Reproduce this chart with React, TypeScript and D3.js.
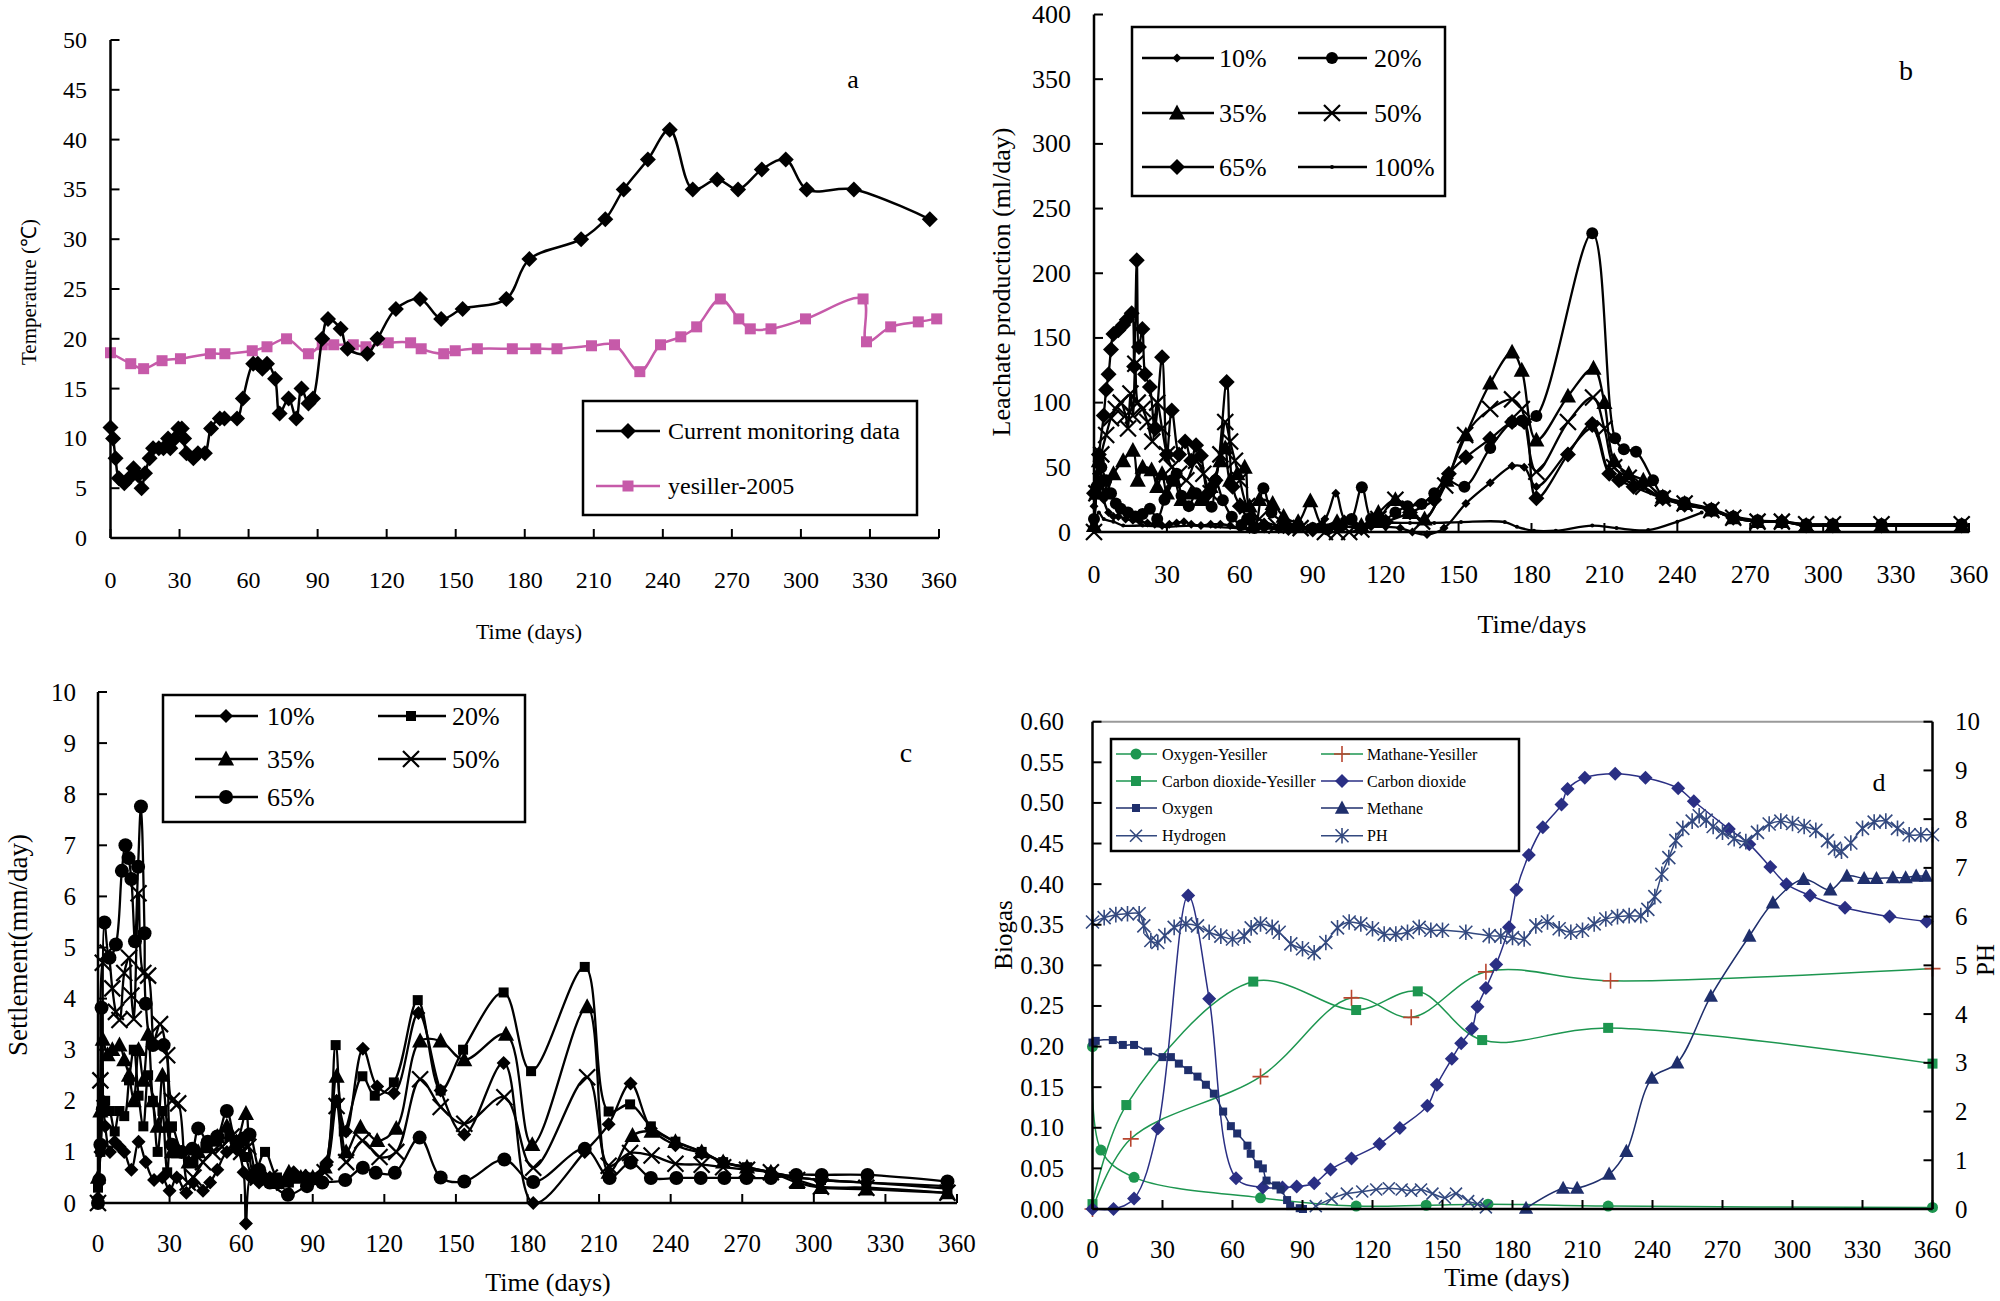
import React from 'react';
import * as d3 from 'd3';

type P = [number, number];

const FONT = '"Liberation Serif", "Times New Roman", serif';

// ---------------- Panel a: temperature ----------------
const aXTicks = [0, 30, 60, 90, 120, 150, 180, 210, 240, 270, 300, 330, 360];
const aYTicks = [0, 5, 10, 15, 20, 25, 30, 35, 40, 45, 50];
const aCurrent: P[] = [
  [0, 11.1], [1.1, 10], [2.2, 8], [3.6, 6], [6, 5.5], [8, 6], [10, 7], [12, 6.3], [13.5, 5], [15, 6.5],
  [17, 8], [18.5, 9], [21, 9], [23, 9], [25, 10], [26, 9], [28, 10], [29.5, 11], [31, 11], [32, 10],
  [33, 8.5], [36, 8], [38, 8.5], [41, 8.5], [43.7, 11], [47.5, 12], [49.5, 12], [55, 12], [57.5, 14],
  [62, 17.5], [64, 17.5], [66, 17], [68, 17.5], [71.5, 16], [73.5, 12.5], [77.4, 14], [80.7, 12], [83, 15],
  [86, 13.5], [88, 14], [92, 20], [94.5, 22], [100, 21], [103, 19], [111.6, 18.5], [116, 20], [124, 23],
  [134.5, 24], [143.7, 22], [153, 23], [172, 24], [182, 28], [204.5, 30], [215, 32], [223, 35], [233.5, 38],
  [243, 41], [253, 35], [263.6, 36], [272.7, 35], [283, 37], [293.4, 38], [302.5, 35], [323, 35], [356, 32],
];
const aYesiller: P[] = [
  [0, 18.6], [8.8, 17.5], [14.4, 17], [22.4, 17.8], [30.4, 18], [43.4, 18.5], [49.7, 18.5], [61.6, 18.8],
  [68, 19.2], [76.5, 20], [86, 18.5], [92, 19.4], [97, 19.4], [105.5, 19.4], [111, 19.2], [120.7, 19.6],
  [130.4, 19.6], [135, 19], [144.8, 18.5], [149.8, 18.8], [159.4, 19], [174.6, 19], [184.8, 19], [194, 19],
  [209, 19.3], [219, 19.4], [230, 16.7], [239, 19.4], [247.8, 20.2], [254.7, 21.2], [265, 24], [273, 22],
  [278, 21], [287, 21], [302, 22], [327, 24], [328.5, 19.7], [339, 21.2], [351, 21.7], [359, 22],
];

// ---------------- Panel b: leachate ----------------
const bYTicks = [0, 50, 100, 150, 200, 250, 300, 350, 400];
const b10: P[] = [
  [0, 20], [1, 45], [2, 30], [3, 38], [4, 25], [6, 15], [8, 12], [10, 12], [13, 10], [16, 9], [19, 8], [22, 7],
  [25, 6], [28, 5], [31, 6], [34, 7], [37, 8], [40, 6], [44, 5], [48, 6], [52, 6], [56, 5], [60, 3], [64, 2],
  [70, 3], [76, 2], [82, 2], [88, 3], [95, 10], [99.5, 30], [103, 10], [108, 5], [114, 4], [120, 4], [126, 3],
  [131, 0], [137, -2], [144, 3], [153, 22], [163, 38], [172, 51], [177, 50], [182, 35], [195, 62], [205, 80],
  [212, 45], [218, 40], [226, 35], [234, 26], [243, 21], [254, 17], [263, 11], [273, 8], [283, 8], [293, 5],
  [304, 5], [324, 5], [357, 5],
];
const b20: P[] = [
  [0, 10], [1, 35], [2, 55], [3, 50], [5, 40], [7, 30], [9, 22], [11, 18], [14, 15], [17, 12], [20, 14], [23, 18],
  [26, 10], [29, 25], [32, 40], [34, 45], [36, 28], [39, 20], [42, 30], [45, 25], [48.4, 19.6], [50, 40], [53, 24.6],
  [56.7, 11.8], [60.7, 5.4], [63, 10], [66, 3], [69.7, 33.8], [73, 15], [78, 8], [84, 5], [90, 3], [96, 2],
  [102, 5], [106, 10], [110.2, 34.6], [114, 10], [118, 8], [124, 15], [129, 20], [134.8, 21.6], [140, 30],
  [145, 40], [152.4, 35], [163, 65], [172, 85], [176, 86], [182, 89.6], [205, 231],
  [214.4, 72.4], [218, 64], [223, 62], [230, 40], [234, 28], [243, 23], [254, 18], [263, 12], [273, 9], [283, 8],
  [293, 6], [304, 6], [324, 6], [357, 6],
];
const b35: P[] = [
  [0, 5], [1, 30], [2, 55], [3, 40], [5, 30], [8, 45], [12, 55], [16, 63], [18, 40], [20, 50], [23.7, 48], [26, 35],
  [28, 45], [30, 30], [33, 40], [36, 25], [40, 30], [44, 25], [48, 35], [52, 55], [54, 65], [56, 40], [59, 45],
  [62, 50], [64, 20], [68, 25], [73.5, 22], [78, 12], [84, 8], [89, 24], [94, 5], [100, 8], [110, 5], [117, 15],
  [124, 25], [130, 15], [136, 10], [145, 40], [153, 75], [163, 115], [172, 139], [176, 125], [182, 71], [195, 105],
  [205.5, 126.5], [210, 100], [214, 55], [220, 45], [226, 40], [234, 27], [243, 22], [254, 17], [263, 11], [273, 8],
  [283, 8], [293, 5], [304, 5], [324, 5], [357, 5],
];
const b50: P[] = [
  [0, 0], [1, 30], [3, 60], [5, 75], [7, 88], [9, 95], [11, 100], [13, 90], [14, 80], [15, 107], [16, 90], [17, 130],
  [18, 100], [20, 95], [22, 85], [24, 70], [26, 100], [28, 80], [30, 60], [32, 50], [35, 45], [38, 40], [42, 55],
  [45, 45], [48, 30], [52, 60], [54, 85], [56, 70], [58, 55], [60, 40], [63, 20], [68, 10], [75, 5], [85, 3], [95, 0],
  [100, 0], [105, 0], [110, 2], [117, 10], [124, 25], [130, 18], [135, 8], [144.5, 36], [152.7, 75], [163, 95],
  [172, 102.5], [176, 95], [182, 46.6], [195, 85], [205.3, 104], [210, 80], [214, 50], [220, 42], [226, 35], [234, 26],
  [243, 22], [254, 17], [263, 11], [273, 8], [283, 8], [293, 6], [304, 6], [324, 6], [357, 6],
];
const b65: P[] = [
  [0, 30], [2, 60], [4, 90], [5, 110], [6, 122], [7, 141], [8, 153], [10, 156], [12, 160], [13.5, 164], [15.5, 169],
  [16.5, 128], [17.6, 210], [18.5, 143], [19.9, 157], [21, 122], [23, 112], [25, 80], [28, 135], [30, 60], [32, 94],
  [35, 60], [37.5, 70], [40, 55], [42, 67], [44, 59], [47, 30], [50, 40], [54.6, 116], [57, 35], [60, 20], [64, 10],
  [70, 5], [80, 3], [90, 2], [100, 5], [110, 3], [120, 8], [130, 15], [140, 25], [146, 45], [153, 57.7], [163, 72],
  [172, 85], [177, 85], [182, 26], [195, 60], [205, 83.5], [212, 45], [216, 40], [222, 35], [234, 26], [243, 21],
  [254, 17], [263, 11], [273, 8], [283, 8], [293, 5], [304, 5], [324, 5], [357, 5],
];
const b100: P[] = [
  [0, 0], [2, 15], [4, 10], [8, 8], [12, 5], [20, 5], [30, 4], [40, 5], [50, 4], [60, 3], [70, 3], [80, 3], [90, 2],
  [100, 3], [110, 5], [120, 7], [130, 7], [140, 7], [151, 7.7], [169, 7.7], [174, 4], [181, 1], [190, 1], [205, 5],
  [215, 3], [228, 1.5], [240, 8], [250, 15],
];
const bLabels = ['10%', '20%', '35%', '50%', '65%', '100%'];

// ---------------- Panel c: settlement ----------------
const cYTicks = [0, 1, 2, 3, 4, 5, 6, 7, 8, 9, 10];
const c10: P[] = [
  [0, 0.1], [1, 1.0], [2, 2.0], [3, 1.5], [5, 1.0], [7, 1.2], [9, 1.1], [11, 1.0], [14, 0.65], [17, 1.2], [20, 0.8],
  [23.5, 0.45], [27, 0.5], [30, 0.24], [33, 0.5], [37, 0.2], [40, 0.4], [44, 0.24], [47, 0.4], [50, 0.65], [54, 1.0],
  [58, 1.05], [61, 0.6], [62, -0.4], [64, 0.5], [67.5, 0.4], [72, 0.5], [77, 0.4], [82, 0.6], [87, 0.5], [92, 0.5],
  [96, 0.8], [100, 2.0], [104, 1.4], [111, 3.02], [117, 2.28], [124, 2.15], [134.3, 3.72], [143.6, 2.2], [153.5, 1.34],
  [170, 2.74], [182.4, 0.0], [204, 1.0], [214, 1.54], [223.2, 2.34], [231.7, 1.46], [242, 1.13], [253, 0.97],
  [262, 0.8], [272, 0.68], [282, 0.6], [293, 0.5], [303, 0.45], [322, 0.4], [356, 0.33],
];
const c20: P[] = [
  [0, 0.3], [1, 1], [3, 2], [5, 1.8], [7, 1.4], [9, 1.8], [11, 1.7], [13, 2.4], [15, 3.0], [17, 2.1], [19, 1.5],
  [21, 2.5], [23, 2.0], [25, 1.0], [27, 1.8], [29, 0.6], [31, 1.5], [35, 1.0], [40, 0.8], [45, 1.1], [50, 1.2],
  [55, 1.3], [60, 1.2], [62, 0.9], [65, 0.5], [70, 1.0], [75, 0.5], [80, 0.4], [85, 0.5], [90, 0.5], [95, 0.7],
  [99.6, 3.09], [103, 1.4], [110.8, 2.48], [116, 2.1], [124, 2.36], [134, 3.97], [143.6, 2.2], [153, 3.0], [170, 4.12],
  [181.5, 2.58], [204, 4.62], [214, 1.79], [223, 1.93], [231.7, 1.5], [242, 1.2], [253, 1.0], [262, 0.8], [272, 0.7],
  [282, 0.6], [293, 0.5], [303, 0.45], [322, 0.4], [356, 0.28],
];
const c35: P[] = [
  [0, 0.5], [1, 1.8], [2, 3.2], [4, 2.9], [6, 3.0], [9, 3.09], [11, 2.8], [13, 2.5], [15, 2.0], [17, 3.0], [19, 2.4],
  [21, 3.3], [23, 2.0], [25, 1.5], [27, 2.5], [29, 1.5], [31, 1.0], [34, 1.0], [38, 0.8], [42, 1.0], [46, 1.1],
  [50, 1.3], [54, 1.5], [58, 1.2], [62, 1.75], [65, 0.6], [70, 0.5], [75, 0.4], [80, 0.6], [85, 0.5], [90, 0.5],
  [95, 0.7], [100, 2.48], [104, 1.0], [110, 1.48], [117, 1.22], [125, 1.46], [135, 3.17], [143.6, 3.17], [153.5, 2.8],
  [171, 3.3], [182, 1.14], [205, 3.84], [214, 0.6], [224, 1.32], [232, 1.4], [242, 1.2], [253, 1.0], [262, 0.8],
  [272, 0.7], [282, 0.6], [293, 0.4], [303, 0.3], [322, 0.27], [356, 0.2],
];
const c50: P[] = [
  [0, 0.0], [1, 2.4], [2, 4.7], [4, 4.9], [6, 4.2], [7.5, 3.74], [9, 3.58], [11, 4.5], [13, 4.8], [14, 4.06],
  [15, 3.6], [17, 6.06], [19, 4.5], [21, 4.45], [23.5, 3.2], [26, 3.5], [29, 2.89], [31, 2.0], [33.6, 1.95],
  [37.6, 0.4], [40, 0.5], [44, 0.8], [48, 1.0], [52, 1.1], [56, 1.3], [60, 1.0], [63, 1.1], [67, 0.5], [72, 0.5],
  [78, 0.4], [84, 0.5], [90, 0.5], [95, 0.6], [100, 1.9], [104, 0.8], [110.8, 1.22], [118, 0.9], [125, 1.0],
  [135, 2.42], [143.6, 1.88], [153.5, 1.55], [170.3, 2.07], [182.4, 0.69], [205, 2.46], [214, 0.73], [223, 0.98],
  [232, 0.93], [242, 0.77], [253, 0.75], [262, 0.7], [272, 0.65], [282, 0.6], [293, 0.45], [303, 0.32], [322, 0.3],
  [356, 0.2],
];
const c65: P[] = [
  [0, 0], [0.5, 0.45], [1, 1.14], [1.5, 3.82], [2, 1.83], [2.7, 5.49], [4.8, 4.8], [7.5, 5.06], [10, 6.5],
  [11.5, 7.0], [12.8, 6.75], [14, 6.34], [15.5, 5.12], [16.8, 6.58], [18, 7.76], [19.5, 5.28], [20, 3.9], [23, 3.09],
  [27.5, 3.09], [31, 1.14], [35, 1.0], [39.5, 1.06], [42, 1.46], [46, 1.2], [50, 1.3], [54, 1.8], [58, 1.2],
  [61, 1.26], [63.5, 1.34], [67.5, 0.65], [72, 0.4], [79.6, 0.16], [87.6, 0.33], [94, 0.4], [103.6, 0.45],
  [111, 0.69], [116.4, 0.59], [124.4, 0.59], [134.8, 1.28], [143.6, 0.5], [153.5, 0.42], [170.3, 0.85], [182.4, 0.41],
  [204, 1.06], [214.4, 0.49], [223.2, 0.79], [231.7, 0.49], [242.4, 0.49], [252.6, 0.49], [262.5, 0.49],
  [271.8, 0.49], [282, 0.49], [292.6, 0.55], [303.3, 0.55], [322.5, 0.55], [356, 0.42],
];
const cLabels = ['10%', '20%', '35%', '50%', '65%'];

// ---------------- Panel d: biogas / pH ----------------
const dLeftTicks = [0, 0.05, 0.1, 0.15, 0.2, 0.25, 0.3, 0.35, 0.4, 0.45, 0.5, 0.55, 0.6];
const dRightTicks = [0, 1, 2, 3, 4, 5, 6, 7, 8, 9, 10];
const dOxygenYes: P[] = [
  [0, 0.2], [3.6, 0.0726], [17.8, 0.039], [72, 0.0138], [113, 0.0036], [143, 0.0046], [169.5, 0.006], [221, 0.0036], [360, 0.002],
];
const dMethaneYes: P[] = [
  [0, 0], [16.4, 0.0864], [72, 0.163], [111, 0.26], [136.6, 0.236], [168.6, 0.292], [222, 0.281], [360, 0.296],
];
const dCO2Yes: P[] = [
  [0, 0.006], [14.5, 0.128], [68.9, 0.28], [113, 0.245], [139.4, 0.268], [167, 0.208], [221, 0.223], [360, 0.179],
];
const dCO2: P[] = [
  [0, 0], [9, 0], [17.8, 0.0128], [28, 0.099], [41, 0.386], [50, 0.259], [61.5, 0.038], [73, 0.0266], [81.4, 0.0266],
  [87.5, 0.0276], [95, 0.0317], [102, 0.0485], [111, 0.0623], [123, 0.08], [131.7, 0.0996], [143.5, 0.127],
  [147.6, 0.153], [154, 0.185], [158, 0.204], [162.6, 0.222], [165, 0.249], [168.6, 0.272], [173, 0.301],
  [178.5, 0.347], [181.7, 0.393], [187, 0.436], [193, 0.47], [201, 0.498], [203.6, 0.517], [211, 0.531], [224, 0.536],
  [237, 0.531], [251, 0.518], [257.7, 0.502], [272.7, 0.468], [281.5, 0.449], [290.5, 0.421], [297.4, 0.4],
  [307.5, 0.386], [322.5, 0.371], [341.6, 0.36], [357.5, 0.354],
];
const dOxygen: P[] = [
  [0, 0.205], [1.4, 0.207], [8.7, 0.208], [13, 0.202], [17.8, 0.202], [23.8, 0.194], [30, 0.187], [33.6, 0.187],
  [37, 0.179], [41, 0.171], [45, 0.163], [48.6, 0.153], [52, 0.142], [56, 0.12], [59.3, 0.102], [62, 0.093],
  [66.4, 0.078], [67.8, 0.068], [71, 0.055], [73, 0.05], [74.6, 0.035], [78.7, 0.029], [80.6, 0.024], [83.4, 0.011],
  [84.7, 0.0036], [88.8, 0.001], [90.2, 0],
];
const dMethane: P[] = [
  [185.8, 0.001], [201.7, 0.0256], [207.7, 0.0256], [221.4, 0.043], [228.8, 0.071], [239.7, 0.161], [250.6, 0.18],
  [265, 0.262], [281.5, 0.336], [291.6, 0.377], [304.7, 0.406], [316.2, 0.393], [323.3, 0.41], [330.7, 0.407],
  [336, 0.407], [343, 0.408], [348.5, 0.408], [353, 0.41], [357.2, 0.41],
];
const dHydrogen: P[] = [
  [95.7, 0.0036], [102.5, 0.0128], [109, 0.019], [115.6, 0.0215], [121.6, 0.024], [127, 0.0256], [132.5, 0.024],
  [136.6, 0.0225], [140.8, 0.024], [145.7, 0.019], [151, 0.0138], [155.8, 0.019], [161, 0.0097], [165, 0.006],
  [168.6, 0.002],
];
const dPH: P[] = [
  [0, 5.89], [5, 5.98], [10, 6.04], [15, 6.06], [20, 6.06], [22, 5.81], [25, 5.51], [28, 5.47], [31, 5.61], [35, 5.78],
  [40, 5.85], [45, 5.81], [50, 5.68], [55, 5.6], [60, 5.54], [65, 5.6], [68, 5.77], [72, 5.85], [77, 5.78], [80, 5.68],
  [85, 5.44], [90, 5.34], [95, 5.26], [100, 5.47], [105, 5.77], [110, 5.89], [115, 5.85], [120, 5.75], [125, 5.64],
  [130, 5.64], [135, 5.68], [140, 5.78], [145, 5.72], [150, 5.72], [160, 5.68], [170, 5.61], [175, 5.6], [180, 5.57],
  [185, 5.54], [190, 5.81], [195, 5.89], [200, 5.75], [205, 5.68], [210, 5.72], [215, 5.85], [220, 5.95], [225, 6.0],
  [230, 6.02], [235, 6.02], [238, 6.15], [241, 6.41], [244, 6.87], [247, 7.21], [250, 7.56], [253, 7.81], [257, 7.96],
  [260, 8.07], [263, 7.98], [266, 7.85], [270, 7.73], [275, 7.6], [280, 7.54], [285, 7.73], [290, 7.9], [295, 7.96],
  [300, 7.91], [305, 7.85], [310, 7.77], [315, 7.56], [318, 7.4], [321, 7.34], [325, 7.51], [330, 7.81], [335, 7.94],
  [340, 7.96], [345, 7.81], [350, 7.68], [355, 7.68], [360, 7.68],
];

const GREEN = '#1d9650';
const NAVY = '#2a2f84';
const NAVY2 = '#1f2f6c';
const STEEL = '#33497f';
const RED = '#b8452f';
const PINK = '#c65aa9';

const curve = d3.curveCatmullRom.alpha(0.5);

function marker(type: string, x: number, y: number, s: number, color: string, key: any, sw = 2.2) {
  switch (type) {
    case 'diamond':
      return <path key={key} d={`M${x},${y - s}L${x + s},${y}L${x},${y + s}L${x - s},${y}Z`} fill={color} />;
    case 'square':
      return <rect key={key} x={x - s / 2} y={y - s / 2} width={s} height={s} fill={color} />;
    case 'circle':
      return <circle key={key} cx={x} cy={y} r={s} fill={color} />;
    case 'triangle':
      return <path key={key} d={`M${x},${y - s}L${x + s * 0.95},${y + s * 0.75}L${x - s * 0.95},${y + s * 0.75}Z`} fill={color} />;
    case 'x':
      return <path key={key} d={`M${x - s},${y - s}L${x + s},${y + s}M${x - s},${y + s}L${x + s},${y - s}`} stroke={color} strokeWidth={sw} fill="none" />;
    case 'plus':
      return <path key={key} d={`M${x - s},${y}L${x + s},${y}M${x},${y - s}L${x},${y + s}`} stroke={color} strokeWidth={sw} fill="none" />;
    case 'asterisk':
      return <path key={key} d={`M${x - s},${y - s}L${x + s},${y + s}M${x - s},${y + s}L${x + s},${y - s}M${x},${y - s * 1.2}L${x},${y + s * 1.2}`} stroke={color} strokeWidth={sw} fill="none" />;
    case 'dot':
      return <circle key={key} cx={x} cy={y} r={s} fill={color} />;
    default:
      return null;
  }
}

type SeriesProps = {
  data: P[];
  xs: d3.ScaleLinear<number, number>;
  ys: d3.ScaleLinear<number, number>;
  color: string;
  width: number;
  mtype: string;
  msize: number;
  mcolor?: string;
  msw?: number;
};

function Series({ data, xs, ys, color, width, mtype, msize, mcolor, msw }: SeriesProps) {
  const line = d3.line<P>().x((d) => xs(d[0])).y((d) => ys(d[1])).curve(curve);
  return (
    <g>
      <path d={line(data) || ''} fill="none" stroke={color} strokeWidth={width} strokeLinejoin="round" />
      {data.map((d, i) => marker(mtype, xs(d[0]), ys(d[1]), msize, mcolor || color, i, msw))}
    </g>
  );
}

function XAxis({ xs, y, ticks, labelY, fs, tick = 9, sw = 2.5, inside = true }: any) {
  const [a, b] = xs.range();
  return (
    <g>
      <line x1={a} x2={b} y1={y} y2={y} stroke="#000" strokeWidth={sw} />
      {ticks.map((t: number) => (
        <g key={t}>
          <line x1={xs(t)} x2={xs(t)} y1={y} y2={inside ? y - tick : y + tick} stroke="#000" strokeWidth={2} />
          <text x={xs(t)} y={labelY} textAnchor="middle" dominantBaseline="central" fontSize={fs} fontFamily={FONT}>{t}</text>
        </g>
      ))}
    </g>
  );
}

function YAxis({ ys, x, ticks, labelX, fs, fmt, anchor = 'end', dir = 1, tick = 9, sw = 2.5, color = '#000' }: any) {
  const [a, b] = ys.range();
  return (
    <g>
      <line x1={x} x2={x} y1={a} y2={b} stroke={color} strokeWidth={sw} />
      {ticks.map((t: number) => (
        <g key={t}>
          <line x1={x} x2={x + dir * tick} y1={ys(t)} y2={ys(t)} stroke="#000" strokeWidth={2} />
          <text x={labelX} y={ys(t)} textAnchor={anchor} dominantBaseline="central" fontSize={fs} fontFamily={FONT}>{fmt ? fmt(t) : t}</text>
        </g>
      ))}
    </g>
  );
}

function Legend({ box, items, fs, lineW = 2.5, sw = 2.5 }: any) {
  return (
    <g>
      <rect x={box[0]} y={box[1]} width={box[2] - box[0]} height={box[3] - box[1]} fill="#fff" stroke="#000" strokeWidth={sw} />
      {items.map((it: any, i: number) => (
        <g key={i}>
          <line x1={it.x1} x2={it.x2} y1={it.y} y2={it.y} stroke={it.color} strokeWidth={lineW} />
          {marker(it.mtype, it.mx, it.y, it.msize, it.mcolor || it.color, 'm', it.msw)}
          <text x={it.tx} y={it.y} dominantBaseline="central" fontSize={fs} fontFamily={FONT}>{it.label}</text>
        </g>
      ))}
    </g>
  );
}

function PanelA() {
  const xs = d3.scaleLinear().domain([0, 360]).range([110.5, 939]);
  const ys = d3.scaleLinear().domain([0, 50]).range([538, 40]);
  return (
    <g>
      <Series data={aYesiller} xs={xs} ys={ys} color={PINK} width={2.5} mtype="square" msize={11} />
      <Series data={aCurrent} xs={xs} ys={ys} color="#000" width={2.5} mtype="diamond" msize={8} />
      <XAxis xs={xs} y={538} ticks={aXTicks} labelY={580} fs={24} />
      <YAxis ys={ys} x={110.5} ticks={aYTicks} labelX={87} fs={24} />
      <text x={529} y={631} textAnchor="middle" dominantBaseline="central" fontSize={22} fontFamily={FONT}>Time (days)</text>
      <text transform="translate(29,292) rotate(-90)" textAnchor="middle" dominantBaseline="central" fontSize={21} fontFamily={FONT}>Temperature (℃)</text>
      <text x={853} y={79} textAnchor="middle" dominantBaseline="central" fontSize={26} fontFamily={FONT}>a</text>
      <Legend
        box={[583, 401, 917, 515]}
        fs={24}
        items={[
          { x1: 596, x2: 660, mx: 628, tx: 668, y: 431, color: '#000', mtype: 'diamond', msize: 8, label: 'Current monitoring data' },
          { x1: 596, x2: 660, mx: 628, tx: 668, y: 486, color: PINK, mtype: 'square', msize: 11, label: 'yesiller-2005' },
        ]}
      />
    </g>
  );
}

function PanelB() {
  const xs = d3.scaleLinear().domain([0, 360]).range([1094, 1969]);
  const ys = d3.scaleLinear().domain([0, 400]).range([532, 14.5]);
  const specs = [
    { d: b100, m: 'dot', s: 2 },
    { d: b10, m: 'diamond', s: 4.5 },
    { d: b20, m: 'circle', s: 6 },
    { d: b35, m: 'triangle', s: 8.5 },
    { d: b50, m: 'x', s: 8 },
    { d: b65, m: 'diamond', s: 8 },
  ];
  const leg = [
    { label: bLabels[0], m: 'diamond', s: 4.5, col: 0, row: 0 },
    { label: bLabels[1], m: 'circle', s: 6, col: 1, row: 0 },
    { label: bLabels[2], m: 'triangle', s: 8.5, col: 0, row: 1 },
    { label: bLabels[3], m: 'x', s: 8, col: 1, row: 1 },
    { label: bLabels[4], m: 'diamond', s: 8, col: 0, row: 2 },
    { label: bLabels[5], m: 'dot', s: 2, col: 1, row: 2 },
  ];
  const rows = [58, 113, 167];
  const cols = [
    { x1: 1142, x2: 1214, mx: 1177, tx: 1219 },
    { x1: 1298, x2: 1367, mx: 1332, tx: 1374 },
  ];
  return (
    <g>
      {specs.map((sp, i) => (
        <Series key={i} data={sp.d} xs={xs} ys={ys} color="#000" width={2.3} mtype={sp.m} msize={sp.s} />
      ))}
      <XAxis xs={xs} y={532} ticks={aXTicks} labelY={574} fs={26} />
      <YAxis ys={ys} x={1094} ticks={bYTicks} labelX={1071} fs={26} />
      <text x={1532} y={624} textAnchor="middle" dominantBaseline="central" fontSize={26} fontFamily={FONT}>Time/days</text>
      <text transform="translate(1001,282) rotate(-90)" textAnchor="middle" dominantBaseline="central" fontSize={26} fontFamily={FONT}>Leachate production (ml/day)</text>
      <text x={1906} y={70} textAnchor="middle" dominantBaseline="central" fontSize={28} fontFamily={FONT}>b</text>
      <Legend
        box={[1132, 27, 1445, 196]}
        fs={26}
        items={leg.map((l) => ({ ...cols[l.col], y: rows[l.row], color: '#000', mtype: l.m, msize: l.s, label: l.label }))}
      />
    </g>
  );
}

function PanelC() {
  const xs = d3.scaleLinear().domain([0, 360]).range([98, 957]);
  const ys = d3.scaleLinear().domain([0, 10]).range([1203, 692]);
  const specs = [
    { d: c10, m: 'diamond', s: 7 },
    { d: c20, m: 'square', s: 10 },
    { d: c35, m: 'triangle', s: 8.5 },
    { d: c50, m: 'x', s: 8 },
    { d: c65, m: 'circle', s: 7 },
  ];
  const leg = [
    { label: cLabels[0], m: 'diamond', s: 7, col: 0, row: 0 },
    { label: cLabels[1], m: 'square', s: 10, col: 1, row: 0 },
    { label: cLabels[2], m: 'triangle', s: 8.5, col: 0, row: 1 },
    { label: cLabels[3], m: 'x', s: 8, col: 1, row: 1 },
    { label: cLabels[4], m: 'circle', s: 7, col: 0, row: 2 },
  ];
  const rows = [716, 759, 797];
  const cols = [
    { x1: 195, x2: 258, mx: 226, tx: 267 },
    { x1: 378, x2: 446, mx: 411, tx: 452 },
  ];
  return (
    <g>
      {specs.map((sp, i) => (
        <Series key={i} data={sp.d} xs={xs} ys={ys} color="#000" width={2.3} mtype={sp.m} msize={sp.s} />
      ))}
      <XAxis xs={xs} y={1203} ticks={aXTicks} labelY={1243} fs={25} />
      <YAxis ys={ys} x={98} ticks={cYTicks} labelX={76} fs={25} />
      <text x={548} y={1282} textAnchor="middle" dominantBaseline="central" fontSize={26} fontFamily={FONT}>Time (days)</text>
      <text transform="translate(18,945) rotate(-90)" textAnchor="middle" dominantBaseline="central" fontSize={27} fontFamily={FONT}>Settlement(mm/day)</text>
      <text x={906} y={752} textAnchor="middle" dominantBaseline="central" fontSize={28} fontFamily={FONT}>c</text>
      <Legend
        box={[163, 695, 525, 822]}
        fs={26}
        items={leg.map((l) => ({ ...cols[l.col], y: rows[l.row], color: '#000', mtype: l.m, msize: l.s, label: l.label }))}
      />
    </g>
  );
}

function PanelD() {
  const L = 1092.5;
  const R = 1932.5;
  const top = 721.7;
  const bot = 1209;
  const xs = d3.scaleLinear().domain([0, 360]).range([L, R]);
  const ys = d3.scaleLinear().domain([0, 0.6]).range([bot, top]);
  const yp = d3.scaleLinear().domain([0, 10]).range([bot, top]);
  const fmt = d3.format('.2f');
  const rows = [754, 781, 808, 835.7];
  const c1 = { x1: 1116, x2: 1157, mx: 1136, tx: 1162 };
  const c2 = { x1: 1321, x2: 1363, mx: 1342, tx: 1367 };
  return (
    <g>
      <line x1={L} x2={R} y1={top} y2={top} stroke="#9a9a9a" strokeWidth={2} />
      <Series data={dOxygenYes} xs={xs} ys={ys} color={GREEN} width={1.5} mtype="circle" msize={5.5} />
      <Series data={dCO2Yes} xs={xs} ys={ys} color={GREEN} width={1.5} mtype="square" msize={10} />
      <Series data={dMethaneYes} xs={xs} ys={ys} color={GREEN} width={1.5} mtype="plus" msize={8} mcolor={RED} msw={1.6} />
      <Series data={dCO2} xs={xs} ys={ys} color={NAVY} width={1.5} mtype="diamond" msize={7} />
      <Series data={dOxygen} xs={xs} ys={ys} color={NAVY2} width={1.5} mtype="square" msize={8} />
      <Series data={dMethane} xs={xs} ys={ys} color={NAVY2} width={1.5} mtype="triangle" msize={7.5} />
      <Series data={dHydrogen} xs={xs} ys={ys} color={STEEL} width={1.5} mtype="x" msize={6} msw={1.6} />
      <Series data={dPH} xs={xs} ys={yp} color={STEEL} width={1.5} mtype="asterisk" msize={6.5} msw={1.6} />
      <XAxis xs={xs} y={bot} ticks={aXTicks} labelY={1249} fs={25} />
      <YAxis ys={ys} x={L} ticks={dLeftTicks} labelX={1064} fs={25} fmt={fmt} />
      <YAxis ys={yp} x={R} ticks={dRightTicks} labelX={1955} fs={25} anchor="start" dir={-1} />
      <text x={1507} y={1277} textAnchor="middle" dominantBaseline="central" fontSize={26} fontFamily={FONT}>Time (days)</text>
      <text transform="translate(1003,935) rotate(-90)" textAnchor="middle" dominantBaseline="central" fontSize={25} fontFamily={FONT}>Biogas</text>
      <text transform="translate(1985,960) rotate(-90)" textAnchor="middle" dominantBaseline="central" fontSize={25} fontFamily={FONT}>PH</text>
      <text x={1879} y={782} textAnchor="middle" dominantBaseline="central" fontSize={26} fontFamily={FONT}>d</text>
      <Legend
        box={[1111, 739, 1519, 851]}
        fs={16}
        lineW={1.5}
        sw={2.5}
        items={[
          { ...c1, y: rows[0], color: GREEN, mtype: 'circle', msize: 5.5, label: 'Oxygen-Yesiller' },
          { ...c2, y: rows[0], color: GREEN, mtype: 'plus', msize: 8, mcolor: RED, msw: 1.6, label: 'Mathane-Yesiller' },
          { ...c1, y: rows[1], color: GREEN, mtype: 'square', msize: 10, label: 'Carbon dioxide-Yesiller' },
          { ...c2, y: rows[1], color: NAVY, mtype: 'diamond', msize: 7, label: 'Carbon dioxide' },
          { ...c1, y: rows[2], color: NAVY2, mtype: 'square', msize: 8, label: 'Oxygen' },
          { ...c2, y: rows[2], color: NAVY2, mtype: 'triangle', msize: 7.5, label: 'Methane' },
          { ...c1, y: rows[3], color: STEEL, mtype: 'x', msize: 6, msw: 1.6, label: 'Hydrogen' },
          { ...c2, y: rows[3], color: STEEL, mtype: 'asterisk', msize: 6.5, msw: 1.6, label: 'PH' },
        ]}
      />
    </g>
  );
}

export default function App() {
  return (
    <svg width={2000} height={1301} viewBox="0 0 2000 1301" style={{ position: 'absolute', left: 0, top: 0, background: '#fff' }}>
      <rect x={0} y={0} width={2000} height={1301} fill="#fff" />
      <PanelA />
      <PanelB />
      <PanelC />
      <PanelD />
    </svg>
  );
}
